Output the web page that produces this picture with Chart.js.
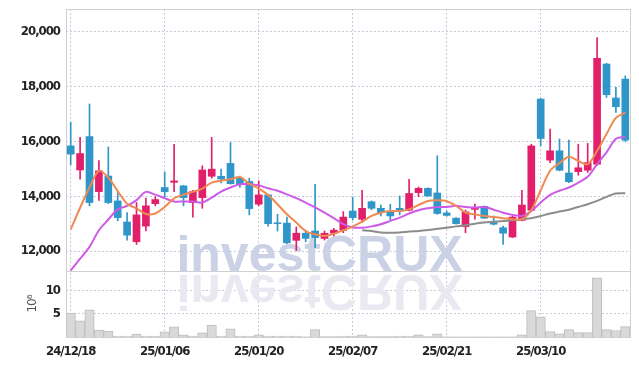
<!DOCTYPE html>
<html>
<head>
<meta charset="utf-8">
<script src="https://cdn.jsdelivr.net/npm/chart.js@4/dist/chart.umd.min.js"></script>
<style>
  html, body { margin: 0; padding: 0; background: #fff; }
  #wrap { width: 639px; height: 366px; }
</style>
</head>
<body>
<div id="wrap"><canvas id="chart"></canvas></div>
<script>
// Daily candles, 24/12/18 .. 25/03/21 (60 trading days)
const DATES = [
  '24/12/18','24/12/19','24/12/20','24/12/23','24/12/24','24/12/26','24/12/27','24/12/30','25/01/02','25/01/03',
  '25/01/06','25/01/07','25/01/08','25/01/09','25/01/10','25/01/13','25/01/14','25/01/15','25/01/16','25/01/17',
  '25/01/20','25/01/21','25/01/22','25/01/23','25/01/24','25/01/31','25/02/03','25/02/04','25/02/05','25/02/06',
  '25/02/07','25/02/10','25/02/11','25/02/12','25/02/13','25/02/14','25/02/17','25/02/18','25/02/19','25/02/20',
  '25/02/21','25/02/24','25/02/25','25/02/26','25/02/27','25/02/28','25/03/04','25/03/05','25/03/06','25/03/07',
  '25/03/10','25/03/11','25/03/12','25/03/13','25/03/14','25/03/17','25/03/18','25/03/19','25/03/20','25/03/21'
];
const OPEN = [
  15840,14960,16180,14170,14740,13830,13060,12340,12910,13730,
  14320,14510,14380,13770,13950,14730,14730,15200,14650,14540,
  13710,14050,13030,13020,12390,12650,12730,12460,12650,12760,
  13460,13160,13800,13560,13460,13560,13490,14130,14290,14120,
  13390,13200,12890,13520,13630,13040,12850,12510,13120,13490,
  17550,15320,15660,14850,14900,14950,15170,18830,17590,18280
];
const HIGH = [
  16700,16150,17370,15300,15800,14130,13400,13770,13930,13980,
  14890,15900,14400,14220,15110,16150,14990,15960,14740,14660,
  14560,14070,13340,13240,12880,12760,14440,12730,12830,13440,
  13970,14220,13830,13680,13710,14010,14620,14340,14310,15480,
  13460,13220,13500,13710,13650,13280,12910,13280,14220,15900,
  17570,16450,16090,16050,15900,15930,19800,18860,17980,18400
];
const LOW = [
  15150,14620,13650,13850,13730,13100,12400,12240,12730,13650,
  13980,14170,13650,13240,13560,14660,14490,14440,14320,13320,
  13650,12910,12730,12270,12020,12340,12120,12400,12550,12670,
  13130,13040,13510,13280,13100,13320,13460,13980,13990,13340,
  13270,12980,12670,13160,13190,12950,12240,12490,13100,13460,
  15840,15230,14930,14500,14770,14870,15130,17610,17060,16000
];
const CLOSE = [
  15540,15560,13770,14930,13770,13220,12580,13320,13650,13880,
  14170,14560,13950,14170,14960,14990,14630,14460,14440,13550,
  14050,13000,13000,12300,12650,12460,12490,12650,12760,13240,
  13220,13560,13560,13400,13280,13460,14100,14290,14010,13370,
  13300,13000,13430,13590,13200,12980,12650,13240,13680,15840,
  16110,15660,14950,14530,15040,15230,19040,17710,17270,16050
];
// volume, millions of shares
const VOLUME = [
  5.2,3.5,5.9,1.5,1.3,0.2,0.2,0.65,0.2,0.2,
  1.1,2.2,0.45,0.2,0.9,2.6,0.2,1.75,0.2,0.2,
  0.45,0.2,0.2,0.2,0.2,0.05,1.6,0.1,0.1,0.2,
  0.2,0.45,0.1,0.1,0.1,0.2,0.2,0.45,0.1,0.7,
  0.05,0.05,0.05,0.05,0.05,0.05,0.05,0.05,0.45,5.7,
  4.35,1.2,0.7,1.6,0.95,0.95,12.8,1.6,1.4,2.25
];
// moving averages as drawn
const MA_SHORT = [
  12790,13580,14320,14930,14680,14190,13730,13560,13350,13370,
  13610,13920,14060,14160,14280,14500,14570,14620,14700,14460,
  14280,14050,13710,13340,13040,12730,12610,12550,12630,12760,
  12890,13070,13280,13400,13460,13460,13520,13680,13830,13850,
  13820,13650,13400,13340,13280,13240,13200,13160,13160,13490,
  14220,14930,15210,15440,15290,15170,15660,16270,16860,17060
];
const MA_MID = [
  11290,11720,12150,12760,13150,13520,13650,13860,14160,14060,
  13930,13810,13810,13810,13770,13950,14170,14320,14440,14440,
  14400,14290,14200,14070,13930,13770,13590,13400,13200,12980,
  12860,12850,12900,12980,13100,13220,13370,13490,13560,13610,
  13610,13650,13610,13590,13610,13510,13400,13320,13280,13460,
  13770,14050,14200,14320,14500,14710,15170,15600,16100,16170
];
const MA_LONG = [
  null,null,null,null,null,null,null,null,null,null,
  null,null,null,null,null,null,null,null,null,null,
  null,null,null,null,null,null,null,null,null,null,
  null,12760,12730,12680,12670,12680,12710,12730,12770,12810,
  12850,12900,12940,13000,13040,13070,13100,13120,13160,13200,
  13280,13370,13440,13510,13610,13710,13830,13980,14100,14110
];
const PRICE_TICKS = [12000, 14000, 16000, 18000, 20000];
const VOL_TICKS = [5, 10];
const PRICE_MIN = 11270, PRICE_MAX = 20840;
const VOL_MAX = 14.3;

const UP = '#e21f6b', DOWN = '#2f96c9';
const GRID = '#c9cbdc';
const TICK_FONT = { family: '"DejaVu Sans Condensed", "DejaVu Sans", sans-serif', weight: 'bold', size: 13 };

const candleColors = DATES.map((_, i) => CLOSE[i] >= OPEN[i] ? UP : DOWN);

// tight tracking for the axis labels
const trackingPlugin = {
  id: 'tracking',
  beforeDraw(chart) { chart.ctx.letterSpacing = '-1px'; },
  afterDraw(chart) { chart.ctx.letterSpacing = '0px'; },
};

// watermark + panel frame
const framePlugin = {
  id: 'frame',
  beforeDatasetsDraw(chart) {
    const { ctx, chartArea: a, scales } = chart;
    const base = scales.y.bottom;
    const cx = chart.width / 2;
    ctx.save();
    ctx.letterSpacing = '0px';
    ctx.font = 'bold 50px "Liberation Sans", Arial, sans-serif';
    ctx.textAlign = 'center';
    ctx.textBaseline = 'alphabetic';
    ctx.fillStyle = '#ccd2e6';
    ctx.fillText('investCRUX', cx, base);
    ctx.translate(0, 2 * base + 4);
    ctx.scale(1, -1);
    ctx.fillStyle = '#e8e9f1';
    ctx.fillText('investCRUX', cx, base);
    ctx.restore();

    ctx.save();
    ctx.strokeStyle = '#d0d0d0';
    ctx.lineWidth = 1;
    ctx.strokeRect(Math.round(a.left) + 0.5, Math.round(a.top) + 0.5,
      Math.round(a.right - a.left), Math.round(a.bottom - a.top));
    ctx.beginPath();
    ctx.moveTo(a.left, Math.round(base) + 0.5);
    ctx.lineTo(a.right, Math.round(base) + 0.5);
    ctx.stroke();
    ctx.restore();
  }
};

const fitLeft = s => { s.width = 66; s.paddingTop = 0; s.paddingBottom = 0; };

new Chart(document.getElementById('chart'), {
  type: 'bar',
  data: {
    labels: DATES,
    datasets: [
      { type: 'line', label: 'MA5', data: MA_SHORT, yAxisID: 'y', borderColor: '#ee8a52', borderWidth: 2, pointRadius: 0, tension: 0.3, order: 0 },
      { type: 'line', label: 'MA20', data: MA_MID, yAxisID: 'y', borderColor: '#cd5be8', borderWidth: 2, pointRadius: 0, tension: 0.3, order: 0 },
      { type: 'line', label: 'MA60', data: MA_LONG, yAxisID: 'y', borderColor: '#8c8c8c', borderWidth: 2, pointRadius: 0, tension: 0.3, order: 0 },
      { label: 'wick', data: DATES.map((_, i) => [LOW[i], HIGH[i]]), yAxisID: 'y', backgroundColor: candleColors, barThickness: 1, grouped: false, order: 2 },
      { label: 'body', data: DATES.map((_, i) => [OPEN[i], CLOSE[i]]), yAxisID: 'y', backgroundColor: candleColors, barThickness: 7, grouped: false, order: 1 },
      { label: 'volume', data: VOLUME, yAxisID: 'yVol', backgroundColor: '#d9d9d9', borderColor: '#bdbdbd', borderWidth: 1, barPercentage: 1, categoryPercentage: 1, grouped: false, order: 3 },
    ]
  },
  options: {
    responsive: true,
    maintainAspectRatio: false,
    animation: false,
    layout: { padding: { top: 9, right: 9, left: 0, bottom: 0 } },
    plugins: { legend: { display: false }, tooltip: { enabled: false } },
    scales: {
      x: {
        offset: true,
        grid: { color: GRID, drawTicks: false, offset: false },
        border: { display: false, dash: [2, 2] },
        ticks: {
          autoSkip: false, maxRotation: 0, padding: 7, color: '#222', font: TICK_FONT,
          callback: (v, i) => i % 10 === 0 ? DATES[i] : null,
        },
        afterFit: s => { s.height = 29; s.paddingLeft = 0; s.paddingRight = 0; },
      },
      y: {
        position: 'left', stack: 'panes', stackWeight: 262, weight: 2,
        min: PRICE_MIN, max: PRICE_MAX,
        grid: { color: GRID, drawTicks: false },
        border: { display: false, dash: [2, 2] },
        ticks: {
          padding: 6, color: '#222', font: TICK_FONT,
          callback: v => v.toLocaleString('en-US'),
        },
        afterBuildTicks: s => { s.ticks = PRICE_TICKS.map(value => ({ value })); },
        afterFit: fitLeft,
      },
      yVol: {
        position: 'left', stack: 'panes', stackWeight: 66, weight: 1,
        min: 0, max: VOL_MAX,
        grid: { color: GRID, drawTicks: false },
        border: { display: false, dash: [2, 2] },
        ticks: { padding: 6, color: '#222', font: TICK_FONT },
        afterBuildTicks: s => { s.ticks = VOL_TICKS.map(value => ({ value })); },
        title: { display: true, text: '10⁶', color: '#555', font: { family: 'DejaVu Sans', size: 12 }, padding: { top: 26, bottom: 0 } },
        afterFit: fitLeft,
      },
    }
  },
  plugins: [trackingPlugin, framePlugin]
});
</script>
</body>
</html>
